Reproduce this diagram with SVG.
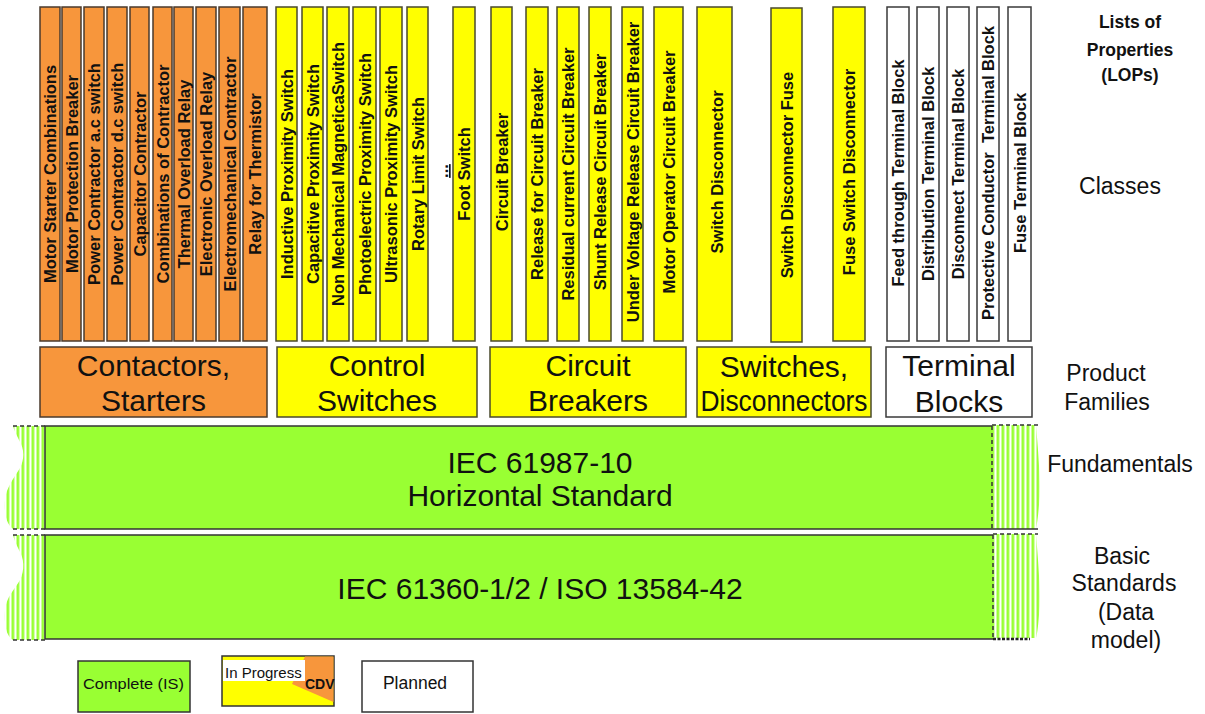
<svg xmlns="http://www.w3.org/2000/svg" width="1205" height="714" viewBox="0 0 1205 714">
  <defs>
    <style>
      .o { fill: #F7963C; stroke: #4a3a2c; stroke-width: 1.5; }
      .y { fill: #FFFF00; stroke: #4a4a2c; stroke-width: 1.5; }
      .w { fill: #FFFFFF; stroke: #3a3a3a; stroke-width: 1.5; }
      .cl { font-family: "Liberation Sans", Arial, sans-serif; font-weight: bold; font-size: 16.5px; text-anchor: middle; fill: #111; }
      .fam { font-family: "Liberation Sans", Arial, sans-serif; font-size: 30px; text-anchor: middle; fill: #111; }
      .std { font-family: "Liberation Sans", Arial, sans-serif; font-size: 30px; text-anchor: middle; fill: #111; }
      .side { font-family: "Liberation Sans", Arial, sans-serif; font-size: 23px; text-anchor: middle; fill: #111; }
      .sideb { font-family: "Liberation Sans", Arial, sans-serif; font-size: 17.5px; font-weight: bold; text-anchor: middle; fill: #111; }
      .leg { font-family: "Liberation Sans", Arial, sans-serif; fill: #111; }
      .edge { stroke: #333; stroke-width: 1.5; fill: none; }
      .dash { stroke: #333; stroke-width: 1.5; fill: none; stroke-dasharray: 4 3; }
    </style>
    <pattern id="stripes" x="1.5" y="0" width="5" height="10" patternUnits="userSpaceOnUse">
      <rect width="5" height="10" fill="#FFFFFF"/>
      <rect width="2.8" height="10" fill="#99FF33"/>
    </pattern>
  </defs>

  <!-- Lists of properties / classes: contactors and starters -->
  <g id="class-motor-starter-combinations"><rect class="o" x="40" y="7" width="20" height="334"/><text class="cl" transform="translate(56,174) rotate(-90)">Motor Starter Combinations</text></g>
  <g id="class-motor-protection-breaker"><rect class="o" x="62" y="7" width="19" height="334"/><text class="cl" transform="translate(77.5,174) rotate(-90)">Motor Protection Breaker</text></g>
  <g id="class-power-contractor-ac"><rect class="o" x="84" y="7" width="20" height="334"/><text class="cl" transform="translate(100,174) rotate(-90)">Power Contractor a.c switch</text></g>
  <g id="class-power-contractor-dc"><rect class="o" x="107" y="7" width="20" height="334"/><text class="cl" transform="translate(123,174) rotate(-90)">Power Contractor d.c switch</text></g>
  <g id="class-capacitor-contractor"><rect class="o" x="130" y="7" width="19" height="334"/><text class="cl" transform="translate(145.5,174) rotate(-90)">Capacitor Contractor</text></g>
  <g id="class-combinations-of-contractor"><rect class="o" x="153" y="7" width="19" height="334"/><text class="cl" transform="translate(168.5,174) rotate(-90)">Combinations of Contractor</text></g>
  <g id="class-thermal-overload-relay"><rect class="o" x="174" y="7" width="19" height="334"/><text class="cl" transform="translate(189.5,174) rotate(-90)">Thermal Overload Relay</text></g>
  <g id="class-electronic-overload-relay"><rect class="o" x="196" y="7" width="20" height="334"/><text class="cl" transform="translate(212,174) rotate(-90)">Electronic Overload Relay</text></g>
  <g id="class-electromechanical-contractor"><rect class="o" x="219" y="7" width="21" height="334"/><text class="cl" transform="translate(235.5,174) rotate(-90)">Electromechanical Contractor</text></g>
  <g id="class-relay-for-thermistor"><rect class="o" x="243" y="7" width="24" height="334"/><text class="cl" transform="translate(261,174) rotate(-90)">Relay for Thermistor</text></g>

  <!-- Control switches -->
  <g id="class-inductive-proximity-switch"><rect class="y" x="276" y="7" width="21" height="334"/><text class="cl" transform="translate(292.5,174) rotate(-90)">Inductive Proximity Switch</text></g>
  <g id="class-capacitive-proximity-switch"><rect class="y" x="302" y="7" width="21" height="334"/><text class="cl" transform="translate(318.5,174) rotate(-90)">Capacitive Proximity Switch</text></g>
  <g id="class-non-mechanical-magnetic-switch"><rect class="y" x="327" y="7" width="22" height="334"/><text class="cl" transform="translate(344,174) rotate(-90)">Non Mechanical MagneticaSwitch</text></g>
  <g id="class-photoelectric-proximity-switch"><rect class="y" x="353" y="7" width="23" height="334"/><text class="cl" transform="translate(370.5,174) rotate(-90)">Photoelectric Proximity Switch</text></g>
  <g id="class-ultrasonic-proximity-switch"><rect class="y" x="380" y="7" width="22" height="334"/><text class="cl" transform="translate(397,174) rotate(-90)">Ultrasonic Proximity Switch</text></g>
  <g id="class-rotary-limit-switch"><rect class="y" x="407" y="7" width="21" height="334"/><text class="cl" transform="translate(423.5,174) rotate(-90)">Rotary Limit Switch</text></g>
  <g id="class-more"><text class="cl" text-decoration="underline" transform="translate(448,171) rotate(-90)">...</text></g>
  <g id="class-foot-switch"><rect class="y" x="453" y="7" width="22" height="334"/><text class="cl" transform="translate(470,174) rotate(-90)">Foot Switch</text></g>

  <!-- Circuit breakers -->
  <g id="class-circuit-breaker"><rect class="y" x="491" y="7" width="21" height="334"/><text class="cl" transform="translate(507.5,172) rotate(-90)">Circuit Breaker</text></g>
  <g id="class-release-for-circuit-breaker"><rect class="y" x="526" y="7" width="22" height="334"/><text class="cl" transform="translate(543,174) rotate(-90)">Release for Circuit Breaker</text></g>
  <g id="class-residual-current-circuit-breaker"><rect class="y" x="557" y="7" width="22" height="334"/><text class="cl" transform="translate(574,174) rotate(-90)">Residual current Circuit Breaker</text></g>
  <g id="class-shunt-release-circuit-breaker"><rect class="y" x="589" y="7" width="22" height="334"/><text class="cl" transform="translate(606,172) rotate(-90)">Shunt Release Circuit Breaker</text></g>
  <g id="class-under-voltage-release-circuit-breaker"><rect class="y" x="622" y="7" width="21" height="334"/><text class="cl" transform="translate(638.5,172) rotate(-90)">Under Voltage Release Circuit Breaker</text></g>
  <g id="class-motor-operator-circuit-breaker"><rect class="y" x="654" y="7" width="29" height="334"/><text class="cl" transform="translate(674.5,172) rotate(-90)">Motor Operator Circuit Breaker</text></g>

  <!-- Switches, disconnectors -->
  <g id="class-switch-disconnector"><rect class="y" x="697" y="7" width="35" height="334"/><text class="cl" transform="translate(722.5,172) rotate(-90)">Switch Disconnector</text></g>
  <g id="class-switch-disconnector-fuse"><rect class="y" x="771" y="8" width="31" height="334"/><text class="cl" transform="translate(792.5,175) rotate(-90)">Switch Disconnector Fuse</text></g>
  <g id="class-fuse-switch-disconnector"><rect class="y" x="833" y="7" width="32" height="334"/><text class="cl" transform="translate(855,172) rotate(-90)">Fuse Switch Disconnector</text></g>

  <!-- Terminal blocks -->
  <g id="class-feed-through-terminal-block"><rect class="w" x="887" y="7" width="22" height="334"/><text class="cl" transform="translate(904,173) rotate(-90)">Feed through Terminal Block</text></g>
  <g id="class-distribution-terminal-block"><rect class="w" x="917" y="7" width="22" height="334"/><text class="cl" transform="translate(934,174) rotate(-90)">Distribution Terminal Block</text></g>
  <g id="class-disconnect-terminal-block"><rect class="w" x="947" y="7" width="22" height="334"/><text class="cl" transform="translate(964,174) rotate(-90)">Disconnect Terminal Block</text></g>
  <g id="class-protective-conductor-terminal-block"><rect class="w" x="977" y="7" width="22" height="334"/><text class="cl" xml:space="preserve" transform="translate(994,173) rotate(-90)">Protective Conductor  Terminal Block</text></g>
  <g id="class-fuse-terminal-block"><rect class="w" x="1008" y="7" width="23" height="334"/><text class="cl" transform="translate(1025.5,173) rotate(-90)">Fuse Terminal Block</text></g>

  <!-- Product families -->
  <g id="family-contactors-starters"><rect class="o" x="40" y="347" width="227" height="70"/><text class="fam" x="153.5" y="376">Contactors,</text><text class="fam" x="153.5" y="411">Starters</text></g>
  <g id="family-control-switches"><rect class="y" x="277" y="347" width="200" height="70"/><text class="fam" x="377" y="376">Control</text><text class="fam" x="377" y="411">Switches</text></g>
  <g id="family-circuit-breakers"><rect class="y" x="490" y="347" width="196" height="70"/><text class="fam" x="588" y="376">Circuit</text><text class="fam" x="588" y="411">Breakers</text></g>
  <g id="family-switches-disconnectors"><rect class="y" x="697" y="347" width="174" height="70"/><text class="fam" x="784" y="377">Switches,</text><text class="fam" x="784" y="411" textLength="167" lengthAdjust="spacingAndGlyphs">Disconnectors</text></g>
  <g id="family-terminal-blocks"><rect class="w" x="886" y="347" width="146" height="70"/><text class="fam" x="959" y="376">Terminal</text><text class="fam" x="959" y="412">Blocks</text></g>

  <!-- Fundamentals: IEC 61987-10 -->
  <g id="fundamentals">
    <path d="M13,426 L45,426 L45,529 L13,529 C6,524 4,512 5,500 C6,488 14,478 20,468 C25,458 24,448 19,440 C16,434 14,430 13,426 Z" fill="url(#stripes)"/>
    <path d="M992,425 L1036,425 C1038,450 1041,480 1039,505 C1038,518 1037,524 1036,529 L992,529 Z" fill="url(#stripes)"/>
    <rect x="45" y="426" width="947" height="103" fill="#99FF33"/>
    <path class="edge" d="M992,426 L45,426 L45,529 L1038,529"/>
    <path class="dash" d="M13,426 L45,426 M13,529 L45,529 M992,425 L1038,425 M992,426 L992,529"/>
    <text class="std" x="540" y="473">IEC 61987-10</text>
    <text class="std" x="540" y="506">Horizontal Standard</text>
  </g>

  <!-- Basic standards: IEC 61360 / ISO 13584 -->
  <g id="basic-standards">
    <path d="M13,535 L45,535 L45,640 L13,640 C6,636 4,624 5,610 C6,598 14,590 20,580 C25,570 24,558 19,550 C16,544 14,539 13,535 Z" fill="url(#stripes)"/>
    <path d="M993,534 L1036,534 C1038,560 1041,590 1039,615 C1038,628 1037,634 1036,638 L993,638 Z" fill="url(#stripes)"/>
    <rect x="45" y="535" width="948" height="104" fill="#99FF33"/>
    <path class="edge" d="M993,535 L45,535 L45,639 L993,639"/>
    <path class="dash" d="M13,535 L45,535 M13,640 L45,640 M993,534 L1038,534 M993,535 L993,638"/>
    <path d="M993,639 L1030,639" stroke="#222" stroke-width="2.5" stroke-dasharray="3 1.5" fill="none"/>
    <text class="std" x="540" y="599">IEC 61360-1/2 / ISO 13584-42</text>
  </g>

  <!-- Layer names -->
  <g id="layer-labels">
    <text class="sideb" x="1130" y="28">Lists of</text>
    <text class="sideb" x="1130" y="56">Properties</text>
    <text class="sideb" x="1130" y="81">(LOPs)</text>
    <text class="side" x="1120" y="194">Classes</text>
    <text class="side" x="1106" y="381">Product</text>
    <text class="side" x="1107" y="410">Families</text>
    <text class="side" x="1120" y="472">Fundamentals</text>
    <text class="side" x="1122" y="564">Basic</text>
    <text class="side" x="1124" y="591">Standards</text>
    <text class="side" x="1126" y="620">(Data</text>
    <text class="side" x="1126" y="648">model)</text>
  </g>

  <!-- Legend -->
  <g id="legend-complete">
    <rect x="78" y="661" width="112" height="51" fill="#99FF33" stroke="#333" stroke-width="1.5"/>
    <text class="leg" x="83" y="689" font-size="15" textLength="101" lengthAdjust="spacingAndGlyphs">Complete (IS)</text>
  </g>
  <g id="legend-in-progress">
    <rect x="222" y="656" width="112" height="50" fill="#FFFF00" stroke="#333" stroke-width="1.5"/>
    <polygon points="305,656.5 333.5,656.5 333.5,702 292,684" fill="#F7963C"/>
    <rect x="223" y="660" width="82" height="21" fill="#FFFFFF"/>
    <text class="leg" x="225" y="678" font-size="15">In Progress</text>
    <text class="leg" x="305" y="689" font-size="14" font-weight="bold">CDV</text>
  </g>
  <g id="legend-planned">
    <rect x="362" y="661" width="111" height="51" fill="#FFFFFF" stroke="#333" stroke-width="1.5"/>
    <text class="leg" x="415" y="689" font-size="17.5" text-anchor="middle">Planned</text>
  </g>
</svg>
